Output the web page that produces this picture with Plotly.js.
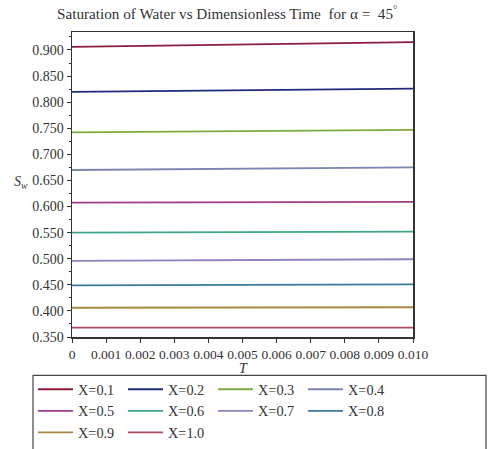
<!DOCTYPE html>
<html>
<head>
<meta charset="utf-8">
<script src="https://cdn.plot.ly/plotly-3.0.1.min.js"></script>
<style>html,body{margin:0;padding:0;background:#fff;}#chart{width:490px;height:449px;}</style>
</head>
<body>
<div id="chart"></div>
<script>
// Dimensionless time T (start and end of plotted interval)
const T = [0, 0.010];
// Series labels
const seriesNames = ["X=0.1","X=0.2","X=0.3","X=0.4","X=0.5","X=0.6","X=0.7","X=0.8","X=0.9","X=1.0"];
// Saturation of water S_w at T=0 and T=0.010 for each X
const sw01 = [0.906, 0.915];
const sw02 = [0.8195, 0.826];
const sw03 = [0.742, 0.747];
const sw04 = [0.670, 0.675];
const sw05 = [0.6075, 0.609];
const sw06 = [0.550, 0.552];
const sw07 = [0.496, 0.499];
const sw08 = [0.449, 0.451];
const sw09 = [0.406, 0.407];
const sw10 = [0.368, 0.368];
const seriesValues = [sw01, sw02, sw03, sw04, sw05, sw06, sw07, sw08, sw09, sw10];
const seriesColors = ["#8b1c3a","#1e2a7c","#7daa3c","#7a85b0","#a23a8c","#3ca58c","#8c82c0","#3c78a0","#a88840","#b04860"];
// Tick labels
const xTickVals = [0,0.001,0.002,0.003,0.004,0.005,0.006,0.007,0.008,0.009,0.010];
const xTickText = ["0","0.001","0.002","0.003","0.004","0.005","0.006","0.007","0.008","0.009","0.010"];

const serif = "'Liberation Serif', 'Times New Roman', serif";
const traces = seriesNames.map((n, i) => ({
  x: T, y: seriesValues[i], name: n, type: "scatter", mode: "lines",
  line: {color: seriesColors[i], width: 1.8}
}));

const layout = {
  width: 490, height: 449,
  margin: {l: 72, r: 77, t: 32, b: 111.5, autoexpand: false},
  paper_bgcolor: "#fff", plot_bgcolor: "#fff",
  font: {family: serif, color: "#333", size: 14},
  title: {text: "Saturation of Water vs Dimensionless Time  for α =  45<sup>°</sup>",
          x: 57/490, xanchor: "left", xref: "container", y: 1 - 14/449, yanchor: "middle", yref: "container",
          font: {family: serif, size: 15.2, color: "#333"}},
  xaxis: {range: [0, 0.010], tickvals: xTickVals, ticktext: xTickText, ticks: "outside", ticklen: 4,
          tickcolor: "#333", showline: true, linecolor: "#333", linewidth: 1.5, mirror: true,
          showgrid: false, zeroline: false, tickfont: {size: 13.5}},
  yaxis: {range: [0.35, 0.9344], tick0: 0.35, dtick: 0.05, tickformat: ".3f", ticks: "outside", ticklen: 4,
          tickcolor: "#333", showline: true, linecolor: "#333", linewidth: 1.5, mirror: true,
          showgrid: false, zeroline: false, tickfont: {size: 14},
          minor: {dtick: 0.025, ticks: "outside", ticklen: 2, tickcolor: "#333", showgrid: false}},
  showlegend: true,
  legend: {orientation: "h", x: (33-72)/341, xanchor: "left", y: (337.5-374)/305.5, yanchor: "top",
           bgcolor: "rgba(0,0,0,0)", borderwidth: 0, font: {size: 14.3, family: serif, color: "#333"},
           entrywidth: 40, entrywidthmode: "pixels", itemwidth: 35, traceorder: "normal"},
  shapes: [{type: "rect", xref: "paper", yref: "paper", x0: (33-72)/341, x1: (486-72)/341,
            y0: (337.5-376)/305.5, y1: (337.5-470)/305.5, line: {color: "#444", width: 1.2}, fillcolor: "rgba(0,0,0,0)"}],
  annotations: [
    {text: "<i>S</i><sub><i>w</i></sub>", xref: "paper", yref: "paper", x: (21-72)/341, y: (337.5-183)/305.5,
     showarrow: false, xanchor: "center", yanchor: "middle", font: {size: 14, family: serif, color: "#333"}},
    {text: "<i>T</i>", xref: "paper", yref: "paper", x: (243-72)/341, y: (337.5-369)/305.5,
     showarrow: false, xanchor: "center", yanchor: "middle", font: {size: 14, family: serif, color: "#333"}}
  ]
};
Plotly.newPlot("chart", traces, layout, {displayModeBar: false, staticPlot: true});
</script>
</body>
</html>
